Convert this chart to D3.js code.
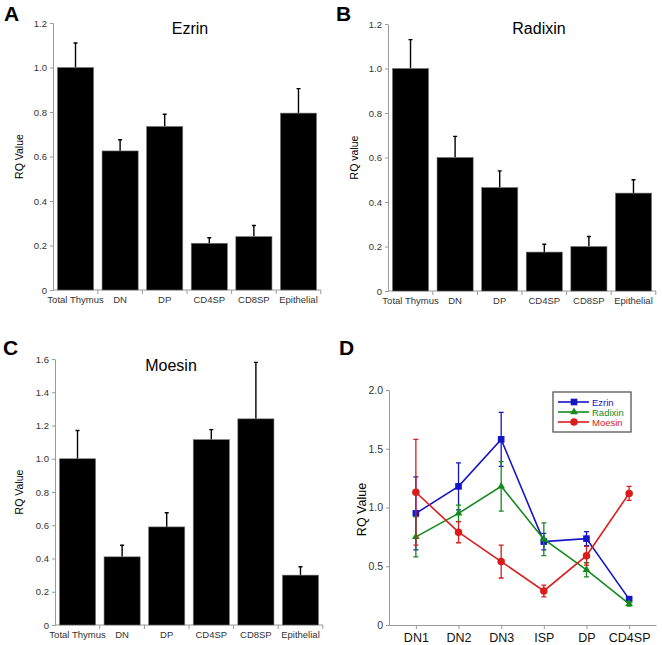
<!DOCTYPE html>
<html>
<head>
<meta charset="utf-8">
<script src="https://cdn.jsdelivr.net/npm/d3@7"></script>
<style>
  body { margin: 0; background: #fff; }
  svg { font-family: "Liberation Sans", Arial, Helvetica, sans-serif; }
</style>
</head>
<body>
<div id="chart"></div>
<script>
// Cell populations for the bar panels
const cells = ["Total Thymus", "DN", "DP", "CD4SP", "CD8SP", "Epithelial"];

// Panel A - Ezrin
const ezrinValues = [1.0, 0.625, 0.735, 0.21, 0.24, 0.795];
const ezrinErr = [0.11, 0.05, 0.055, 0.025, 0.05, 0.11];

// Panel B - Radixin
const radixinValues = [1.0, 0.60, 0.465, 0.175, 0.20, 0.44];
const radixinErr = [0.13, 0.095, 0.075, 0.035, 0.045, 0.06];

// Panel C - Moesin
const moesinValues = [1.0, 0.41, 0.59, 1.115, 1.24, 0.30];
const moesinErr = [0.17, 0.07, 0.085, 0.06, 0.34, 0.05];

const barTicksAB = [0, 0.2, 0.4, 0.6, 0.8, 1.0, 1.2];
const barTicksC = [0, 0.2, 0.4, 0.6, 0.8, 1.0, 1.2, 1.4, 1.6];

// Panel D - thymocyte stages
const stages = ["DN1", "DN2", "DN3", "ISP", "DP", "CD4SP"];
const ezrinStage = [0.95, 1.18, 1.58, 0.71, 0.735, 0.22];
const ezrinStageErr = [0.31, 0.20, 0.23, 0.07, 0.06, 0.02];
const radixinStage = [0.75, 0.95, 1.18, 0.73, 0.47, 0.18];
const radixinStageErr = [0.17, 0.07, 0.21, 0.14, 0.06, 0.02];
const moesinStage = [1.13, 0.79, 0.54, 0.29, 0.59, 1.12];
const moesinStageErr = [0.45, 0.09, 0.14, 0.05, 0.08, 0.06];
const lineTicks = [0, 0.5, 1.0, 1.5, 2.0];

const width = 662;
const height = 645;
const axisGray = "#9a9a9a";
const tickText = "#333";

const svg = d3.select("#chart")
    .append("svg")
    .attr("width", width)
    .attr("height", height);

// Bar panel with upper error bars
function barPanel(o) {
    const g = svg.append("g");

    const x = d3.scaleBand()
        .domain(cells)
        .range([o.x0, o.x1])
        .paddingInner(0.19)
        .paddingOuter(0.1);

    const y = d3.scaleLinear()
        .domain([0, o.ymax])
        .range([o.y0, o.y1]);

    // y axis
    const yAxis = g.append("g")
        .attr("transform", `translate(${o.x0},0)`)
        .call(d3.axisLeft(y).tickValues(o.ticks).tickSize(3).tickSizeOuter(0)
            .tickFormat(d => d === 0 ? "0" : d3.format(".1f")(d)));
    yAxis.select(".domain").attr("stroke", axisGray);
    yAxis.selectAll(".tick line").attr("stroke", axisGray);
    yAxis.selectAll("text").attr("fill", tickText).style("font-size", "9.5px").attr("x", -6);

    // x axis line with ticks between bars
    const gap = x.step() * x.paddingInner();
    g.append("line")
        .attr("x1", o.x0).attr("x2", o.x1)
        .attr("y1", o.y0).attr("y2", o.y0)
        .attr("stroke", axisGray);
    g.selectAll(".xtick")
        .data(cells)
        .enter().append("line")
        .attr("x1", d => x(d) + x.bandwidth() + gap / 2)
        .attr("x2", d => x(d) + x.bandwidth() + gap / 2)
        .attr("y1", o.y0).attr("y2", o.y0 + 4)
        .attr("stroke", axisGray);
    g.selectAll(".xlabel")
        .data(cells)
        .enter().append("text")
        .attr("x", d => x(d) + x.bandwidth() / 2)
        .attr("y", o.y0 + 13)
        .attr("text-anchor", "middle")
        .attr("fill", tickText)
        .style("font-size", "9.5px")
        .text(d => d);

    // error bars (upper only)
    g.selectAll(".err")
        .data(o.values)
        .enter().append("path")
        .attr("d", (d, i) => {
            const cx = x(cells[i]) + x.bandwidth() / 2;
            const top = y(d + o.err[i]);
            return `M${cx},${y(d)}V${top}M${cx - 2},${top}H${cx + 2}`;
        })
        .attr("stroke", "#000")
        .attr("stroke-width", 1.4)
        .attr("fill", "none");

    // bars
    g.selectAll(".bar")
        .data(o.values)
        .enter().append("rect")
        .attr("x", (d, i) => x(cells[i]))
        .attr("y", d => y(d))
        .attr("width", x.bandwidth())
        .attr("height", d => o.y0 - y(d))
        .attr("fill", "#000")
        .attr("stroke", "#777")
        .attr("stroke-width", 0.6);

    // title, axis label, panel letter
    g.append("text")
        .attr("x", o.titleX).attr("y", o.titleY)
        .attr("text-anchor", "middle")
        .style("font-size", "16px")
        .text(o.title);

    g.append("text")
        .attr("transform", `translate(${o.labelX},${(o.y0 + o.y1) / 2}) rotate(-90)`)
        .attr("text-anchor", "middle")
        .style("font-size", "10.5px")
        .text(o.ylabel);

    g.append("text")
        .attr("x", o.letterX).attr("y", o.letterY)
        .style("font-size", "21px")
        .style("font-weight", "bold")
        .text(o.letter);
}

barPanel({
    x0: 53, x1: 321, y0: 290, y1: 23, ymax: 1.2, ticks: barTicksAB,
    values: ezrinValues, err: ezrinErr,
    title: "Ezrin", titleX: 190, titleY: 34,
    ylabel: "RQ Value", labelX: 23,
    letter: "A", letterX: 4, letterY: 21
});

barPanel({
    x0: 388, x1: 656, y0: 291, y1: 24, ymax: 1.2, ticks: barTicksAB,
    values: radixinValues, err: radixinErr,
    title: "Radixin", titleX: 539, titleY: 34,
    ylabel: "RQ value", labelX: 358,
    letter: "B", letterX: 336, letterY: 21
});

barPanel({
    x0: 55, x1: 323, y0: 625, y1: 359, ymax: 1.6, ticks: barTicksC,
    values: moesinValues, err: moesinErr,
    title: "Moesin", titleX: 171, titleY: 371,
    ylabel: "RQ Value", labelX: 23,
    letter: "C", letterX: 3, letterY: 355
});

// Panel D - line chart
const series = [
    { name: "Ezrin", values: ezrinStage, err: ezrinStageErr, color: "#1515c8", symbol: d3.symbolSquare, size: 44 },
    { name: "Radixin", values: radixinStage, err: radixinStageErr, color: "#148a1c", symbol: d3.symbolTriangle, size: 26 },
    { name: "Moesin", values: moesinStage, err: moesinStageErr, color: "#d91c1c", symbol: d3.symbolCircle, size: 44 }
];

const dX0 = 389, dX1 = 656, dY0 = 625, dY1 = 390;
const xD = d3.scalePoint().domain(stages).range([dX0, dX1]).padding(0.63);
const yD = d3.scaleLinear().domain([0, 2]).range([dY0, dY1]);

const gD = svg.append("g");

const yAxisD = gD.append("g")
    .attr("transform", `translate(${dX0},0)`)
    .call(d3.axisLeft(yD).tickValues(lineTicks).tickSize(3).tickSizeOuter(0)
        .tickFormat(d => d === 0 ? "0" : d3.format(".1f")(d)));
yAxisD.select(".domain").attr("stroke", axisGray);
yAxisD.selectAll(".tick line").attr("stroke", axisGray);
yAxisD.selectAll("text").attr("fill", tickText).style("font-size", "10.5px").attr("x", -6);

const xAxisD = gD.append("g")
    .attr("transform", `translate(0,${dY0})`)
    .call(d3.axisBottom(xD).tickSize(4).tickSizeOuter(0));
xAxisD.select(".domain").attr("stroke", axisGray);
xAxisD.selectAll(".tick line").attr("stroke", axisGray);
xAxisD.selectAll("text").attr("fill", "#111").style("font-size", "12.5px").attr("y", 8);

series.forEach(s => {
    const line = d3.line()
        .x((d, i) => xD(stages[i]))
        .y(d => yD(d));

    gD.selectAll(null)
        .data(s.values)
        .enter().append("path")
        .attr("d", (d, i) => {
            const cx = xD(stages[i]);
            const hi = yD(d + s.err[i]);
            const lo = yD(d - s.err[i]);
            return `M${cx},${lo}V${hi}M${cx - 2.5},${hi}H${cx + 2.5}M${cx - 2.5},${lo}H${cx + 2.5}`;
        })
        .attr("stroke", s.color)
        .attr("stroke-width", 1.3)
        .attr("fill", "none");

    gD.append("path")
        .datum(s.values)
        .attr("d", line)
        .attr("stroke", s.color)
        .attr("stroke-width", 1.6)
        .attr("fill", "none");

    gD.selectAll(null)
        .data(s.values)
        .enter().append("path")
        .attr("d", d3.symbol().type(s.symbol).size(s.size))
        .attr("transform", (d, i) => `translate(${xD(stages[i])},${yD(d)})`)
        .attr("fill", s.color);
});

// Legend
const legend = gD.append("g").attr("transform", "translate(553,392)");
legend.append("rect")
    .attr("width", 78).attr("height", 40)
    .attr("fill", "#fff")
    .attr("stroke", "#555")
    .attr("stroke-width", 1.3);
series.forEach((s, i) => {
    const ly = 10 + i * 10;
    legend.append("line")
        .attr("x1", 5).attr("x2", 36)
        .attr("y1", ly).attr("y2", ly)
        .attr("stroke", s.color).attr("stroke-width", 1.6);
    legend.append("path")
        .attr("d", d3.symbol().type(s.symbol).size(s.size))
        .attr("transform", `translate(21,${ly})`)
        .attr("fill", s.color);
    legend.append("text")
        .attr("x", 39).attr("y", ly + 3.5)
        .attr("fill", s.color)
        .style("font-size", "9.5px")
        .text(s.name);
});

gD.append("text")
    .attr("transform", `translate(366,${(dY0 + dY1) / 2 + 2}) rotate(-90)`)
    .attr("text-anchor", "middle")
    .style("font-size", "12.5px")
    .text("RQ Value");

gD.append("text")
    .attr("x", 339).attr("y", 355)
    .style("font-size", "21px")
    .style("font-weight", "bold")
    .text("D");
</script>
</body>
</html>
